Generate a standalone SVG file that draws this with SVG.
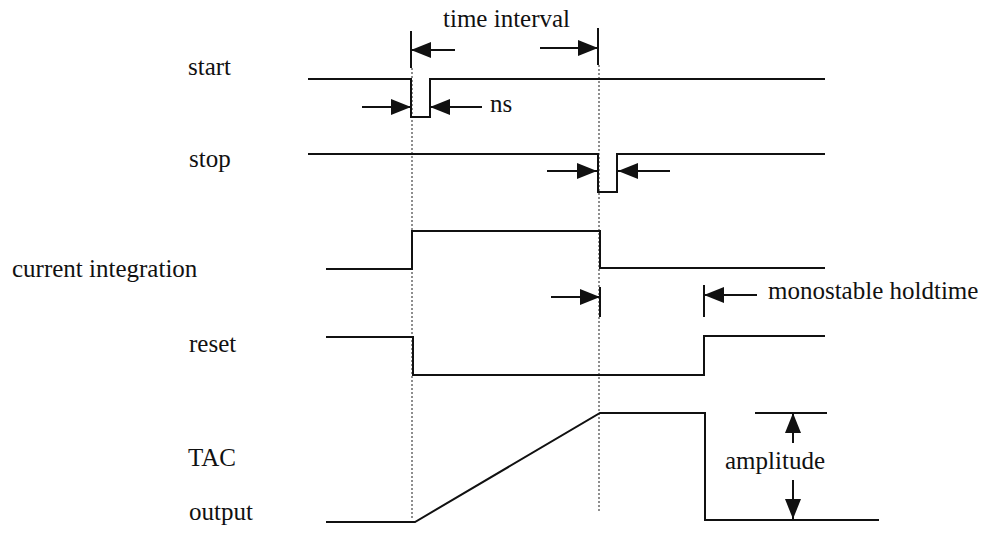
<svg xmlns="http://www.w3.org/2000/svg" width="985" height="533" viewBox="0 0 985 533">
<style>
  .sig { fill: none; stroke: #111; stroke-width: 2; stroke-linejoin: miter; }
  .dot { fill: none; stroke: #444; stroke-width: 1.2; stroke-dasharray: 2 2; }
  .bar { stroke: #111; stroke-width: 2; }
  .arr { stroke: #111; stroke-width: 2; marker-end: url(#ah); }
  .t { font-family: 'Liberation Serif', 'Times New Roman', Times, serif; font-size: 25px; fill: #111; }
</style>
<defs>
  <marker id="ah" markerUnits="userSpaceOnUse" markerWidth="20" markerHeight="16" refX="20" refY="8" orient="auto">
    <path d="M0,0 L20,8 L0,16 z" fill="#111"/>
  </marker>
</defs>
<rect width="985" height="533" fill="#fff"/>

<g id="labels">
  <text class="t" x="188" y="75">start</text>
  <text class="t" x="189" y="167">stop</text>
  <text class="t" x="12" y="277">current integration</text>
  <text class="t" x="189" y="352">reset</text>
  <text class="t" x="188" y="466">TAC</text>
  <text class="t" x="189" y="520">output</text>
</g>

<g id="guides">
  <line class="dot" x1="412" y1="68" x2="412" y2="519"/>
  <line class="dot" x1="599" y1="65" x2="599" y2="512"/>
</g>

<g id="start">
  <polyline class="sig" points="308,79 411,79 411,117 430,117 430,79 825,79"/>
</g>
<g id="stop">
  <polyline class="sig" points="308,154 598,154 598,192 617,192 617,154 825,154"/>
</g>
<g id="current-integration">
  <polyline class="sig" points="326,269 412,269 412,231 600,231 600,268 825,268"/>
</g>
<g id="reset">
  <polyline class="sig" points="326,337 413,337 413,375 704,375 704,336 825,336"/>
</g>
<g id="tac-output">
  <polyline class="sig" points="326,522 415,522 600,413 705,413 705,520 879,520"/>
</g>

<g id="connectors">
  <line class="bar" x1="411" y1="31" x2="411" y2="68"/>
  <line class="arr" x1="455" y1="50" x2="411" y2="50"/>
  <line class="bar" x1="598" y1="28" x2="598" y2="65"/>
  <line class="arr" x1="540" y1="48" x2="598" y2="48"/>
  <line class="arr" x1="362" y1="107" x2="411" y2="107"/>
  <line class="arr" x1="482" y1="107" x2="430" y2="107"/>
  <line class="arr" x1="547" y1="171" x2="597" y2="171"/>
  <line class="arr" x1="670" y1="171" x2="618" y2="171"/>
  <line class="arr" x1="551" y1="297" x2="600" y2="297"/>
  <line class="bar" x1="600" y1="287" x2="600" y2="317"/>
  <line class="bar" x1="704" y1="285" x2="704" y2="317"/>
  <line class="arr" x1="757" y1="295" x2="704" y2="295"/>
  <line class="bar" x1="755" y1="413" x2="827" y2="413"/>
  <line class="arr" x1="793" y1="443" x2="793" y2="413"/>
  <line class="arr" x1="793" y1="480" x2="793" y2="519"/>
</g>

<g id="annotations">
  <text class="t" x="443" y="27">time interval</text>
  <text class="t" x="490" y="112">ns</text>
  <text class="t" x="768" y="299">monostable holdtime</text>
  <text class="t" x="725" y="469">amplitude</text>
</g>
</svg>
